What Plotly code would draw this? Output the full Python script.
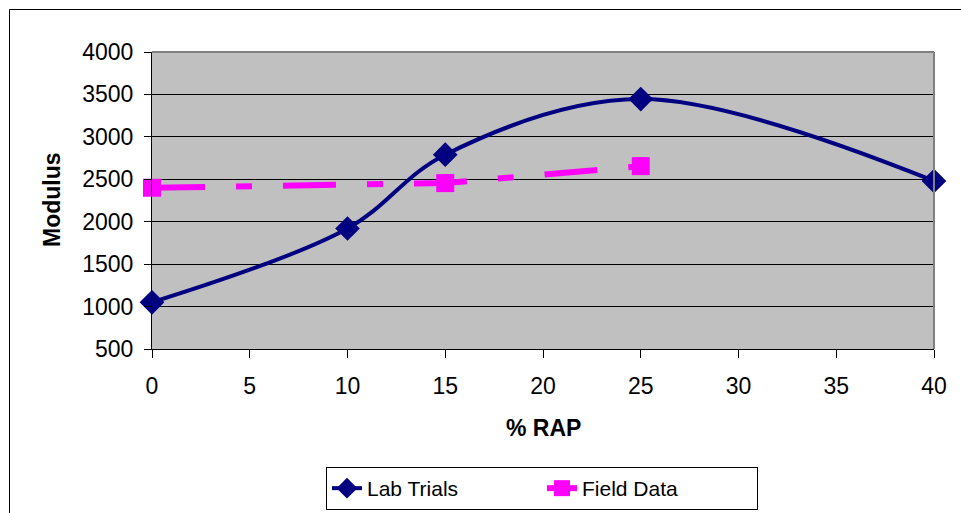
import plotly.graph_objects as go

# % RAP content and measured resilient modulus
lab_rap = [0, 10, 15, 25, 40]
lab_modulus = [1050, 1920, 2790, 3445, 2480]

field_rap = [0, 15, 25]
field_modulus = [2400, 2455, 2655]

x_ticks = [0, 5, 10, 15, 20, 25, 30, 35, 40]
y_ticks = [500, 1000, 1500, 2000, 2500, 3000, 3500, 4000]

FONT = "Liberation Sans, Arial, sans-serif"
FS = 23

fig = go.Figure()

fig.add_trace(go.Scatter(
    x=lab_rap, y=lab_modulus, name="Lab Trials",
    mode="lines+markers",
    line=dict(color="#000080", width=4, shape="spline", smoothing=1.0),
    marker=dict(symbol="diamond", size=19, color="#000080"),
    cliponaxis=False,
))

fig.add_trace(go.Scatter(
    x=field_rap, y=field_modulus, name="Field Data",
    mode="lines+markers",
    line=dict(color="#FF00FF", width=6, dash="53px,31px,16px,31px"),
    marker=dict(symbol="square", size=18, color="#FF00FF"),
    cliponaxis=False,
))

# plot area: left 152, right 934, top 52, bottom 349 (px)
L, R, T, B = 152, 934, 52, 349
W, H = 961, 513
pw, ph = R - L, B - T

def px_x(p):
    return (p - L) / pw

def px_y(p):
    return (B - p) / ph

fig.update_layout(
    width=W, height=H,
    margin=dict(l=L, r=W - R, t=T, b=H - B, pad=0, autoexpand=False),
    paper_bgcolor="white",
    plot_bgcolor="#C0C0C0",
    font=dict(family=FONT, size=FS, color="black"),
    showlegend=True,
    legend=dict(
        orientation="h",
        xref="container", yref="container",
        x=542 / W, xanchor="center",
        y=(H - 510) / H, yanchor="bottom",
        bgcolor="white",
        bordercolor="black", borderwidth=1,
        font=dict(family=FONT, size=21, color="black"),
        entrywidth=170,
        tracegroupgap=0,
    ),
    xaxis=dict(
        range=[0, 40],
        tickvals=x_ticks,
        ticktext=[str(v) for v in x_ticks],
        showgrid=False, zeroline=False,
        showline=True, linecolor="black", linewidth=1,
        ticks="outside", ticklen=8, tickcolor="black",
        ticklabelstandoff=8,
        automargin=False,
        fixedrange=True,
    ),
    yaxis=dict(
        range=[500, 4000],
        tickvals=y_ticks,
        showgrid=True, gridcolor="black", gridwidth=1,
        zeroline=False,
        showline=True, linecolor="black", linewidth=1,
        ticks="outside", ticklen=7, tickcolor="black",
        ticklabelstandoff=6,
        automargin=False,
        fixedrange=True,
    ),
    shapes=[
        # gray frame on the top and right of the plot area
        dict(type="line", xref="paper", yref="paper", x0=0, x1=1, y0=1, y1=1,
             line=dict(color="#808080", width=2)),
        dict(type="line", xref="paper", yref="paper", x0=1, x1=1, y0=0, y1=1,
             line=dict(color="#808080", width=2)),
        # outer chart border
        dict(type="rect", xref="paper", yref="paper",
             x0=px_x(9.5), x1=px_x(980), y0=px_y(530), y1=px_y(9.5),
             line=dict(color="black", width=1), fillcolor="rgba(0,0,0,0)",
             layer="below"),
    ],
    annotations=[
        dict(text="<b>% RAP</b>", xref="paper", yref="paper",
             x=px_x(543), y=px_y(428), xanchor="center", yanchor="middle",
             showarrow=False, font=dict(family=FONT, size=FS, color="black")),
        dict(text="<b>Modulus</b>", xref="paper", yref="paper",
             x=px_x(52), y=px_y(200), xanchor="center", yanchor="middle",
             textangle=-90, showarrow=False,
             font=dict(family=FONT, size=FS, color="black")),
    ],
)

fig.write_html("out.html")
